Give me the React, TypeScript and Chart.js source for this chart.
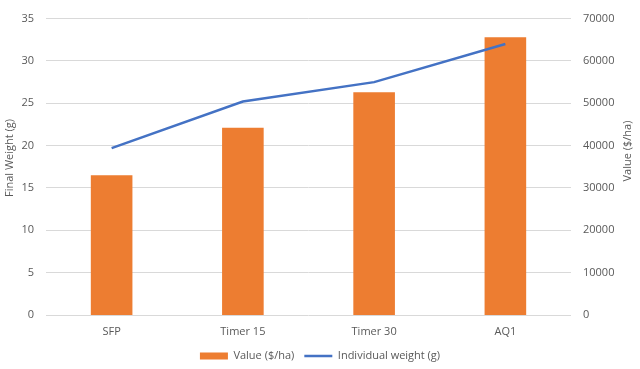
import React, { useEffect, useRef } from "react";
import { Chart, registerables } from "chart.js";

Chart.register(...registerables);

const categories = ["SFP", "Timer 15", "Timer 30", "AQ1"];
const valuePerHa = [33000, 44200, 52600, 65600];
const individualWeight = [19.7, 25.2, 27.5, 32.0];

const leftAxisTitle = "Final Weight (g)";
const rightAxisTitle = "Value ($/ha)";
const barLabel = "Value ($/ha)";
const lineLabel = "Individual weight (g)";

const ORANGE = "#ED7D31";
const BLUE = "#4472C4";
const TEXT = "#595959";
const GRID = "#D9D9D9";
const FONT = "'Open Sans', sans-serif";

const axisTitlesPlugin = {
  id: "axisTitles",
  afterDraw(chart: any) {
    const ctx = chart.ctx as CanvasRenderingContext2D;
    ctx.save();
    ctx.fillStyle = TEXT;
    ctx.font = `11px ${FONT}`;
    ctx.textAlign = "center";
    ctx.textBaseline = "middle";
    ctx.save();
    ctx.translate(10, 158);
    ctx.rotate(-Math.PI / 2);
    ctx.fillText(leftAxisTitle, 0, 0);
    ctx.restore();
    ctx.save();
    ctx.translate(628, 151);
    ctx.rotate(-Math.PI / 2);
    ctx.fillText(rightAxisTitle, 0, 0);
    ctx.restore();
    ctx.restore();
  },
};

export default function App() {
  const ref = useRef<HTMLCanvasElement | null>(null);

  useEffect(() => {
    document.body.style.margin = "0";
    const canvas = ref.current;
    if (!canvas) return;
    const chart = new Chart(canvas, {
      type: "bar",
      data: {
        labels: categories,
        datasets: [
          {
            type: "line",
            label: lineLabel,
            data: individualWeight,
            borderColor: BLUE,
            backgroundColor: BLUE,
            borderWidth: 2.5,
            pointRadius: 0,
            tension: 0,
            yAxisID: "y",
          } as any,
          {
            type: "bar",
            label: barLabel,
            data: valuePerHa,
            backgroundColor: ORANGE,
            borderWidth: 0,
            categoryPercentage: 1,
            barPercentage: 0.317,
            yAxisID: "y1",
          },
        ],
      },
      plugins: [axisTitlesPlugin],
      options: {
        animation: false,
        responsive: false,
        maintainAspectRatio: false,
        layout: { padding: { top: 17, left: 0, right: 0, bottom: -2.5 } },
        plugins: {
          tooltip: { enabled: false },
          legend: {
            position: "bottom",
            labels: {
              usePointStyle: true,
              pointStyleWidth: 28,
              boxHeight: 7,
              padding: 10,
              color: TEXT,
              font: { family: FONT, size: 11 },
              generateLabels: () => [
                {
                  text: barLabel,
                  fillStyle: ORANGE,
                  strokeStyle: ORANGE,
                  lineWidth: 0,
                  pointStyle: "rect",
                  datasetIndex: 1,
                  hidden: false,
                  fontColor: TEXT,
                } as any,
                {
                  text: lineLabel,
                  fillStyle: BLUE,
                  strokeStyle: BLUE,
                  lineWidth: 2.5,
                  pointStyle: "line",
                  datasetIndex: 0,
                  hidden: false,
                  fontColor: TEXT,
                } as any,
              ],
            },
          },
        },
        scales: {
          x: {
            grid: { display: false, drawTicks: false },
            border: { display: false },
            ticks: { color: TEXT, font: { family: FONT, size: 11 }, padding: 10 },
            afterFit: (s: any) => {
              s.height = 25.5;
            },
          },
          y: {
            position: "left",
            min: 0,
            max: 35,
            ticks: {
              stepSize: 5,
              color: TEXT,
              font: { family: FONT, size: 11 },
              padding: 12,
            },
            grid: { color: GRID, lineWidth: 1, drawTicks: false },
            border: { display: false },
            afterFit: (s: any) => {
              s.width = 46;
            },
          },
          y1: {
            position: "right",
            min: 0,
            max: 70000,
            ticks: {
              stepSize: 10000,
              color: TEXT,
              font: { family: FONT, size: 11 },
              padding: 12,
              callback: (v: any) => String(v),
            },
            grid: { display: false, drawTicks: false },
            border: { display: false },
            afterFit: (s: any) => {
              s.width = 69;
            },
          },
        },
      },
    });
    return () => chart.destroy();
  }, []);

  return (
    <div style={{ width: 640, height: 369, background: "#fff" }}>
      <canvas ref={ref} width={640} height={369} style={{ display: "block" }} />
    </div>
  );
}
